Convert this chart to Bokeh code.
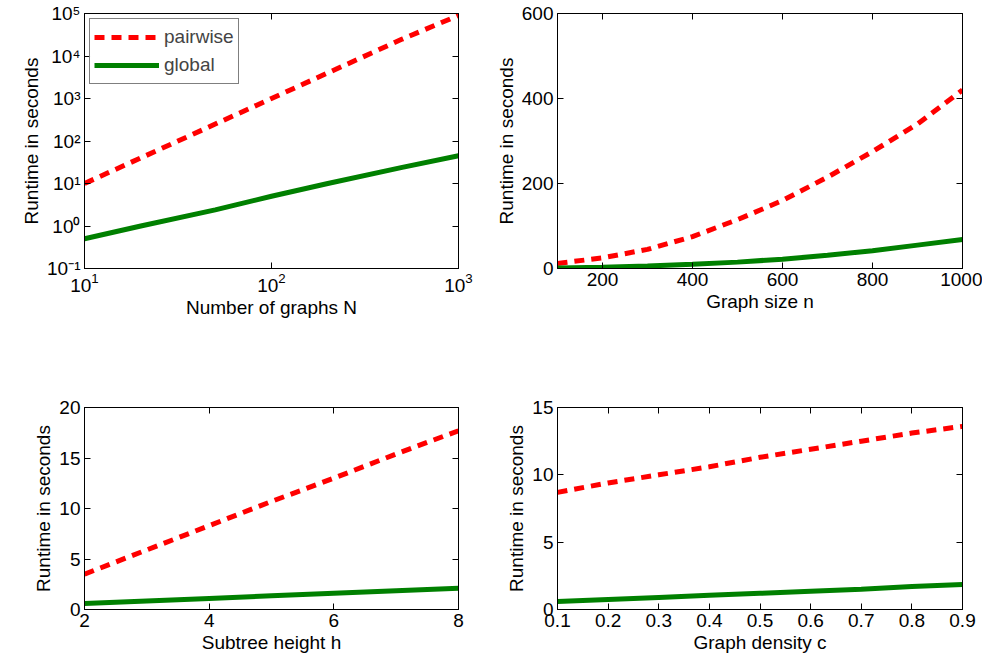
from bokeh.plotting import figure
from bokeh.layouts import column, row
from bokeh.models import FixedTicker, LinearAxis, LogAxis, Legend, LegendItem, Range1d
from bokeh.embed import file_html
from bokeh.resources import INLINE

N = [10, 20, 50, 100, 200, 500, 1000]
N_pair = [10, 40, 250, 1000, 4000, 25000, 90000]
N_glob = [0.5, 1.0, 2.4, 5, 10, 24, 45]

n = [100, 200, 300, 400, 500, 600, 700, 800, 900, 1000]
n_pair = [12, 25, 45, 75, 115, 160, 215, 275, 340, 420]
n_glob = [1, 3, 6, 10, 15, 22, 31, 42, 55, 68]

h = [2, 3, 4, 5, 6, 7, 8]
h_pair = [3.5, 5.9, 8.3, 10.7, 13.0, 15.4, 17.7]
h_glob = [0.6, 0.85, 1.1, 1.35, 1.6, 1.85, 2.1]

c = [0.1, 0.2, 0.3, 0.4, 0.5, 0.6, 0.7, 0.8, 0.9]
c_pair = [8.7, 9.4, 10.0, 10.6, 11.3, 11.9, 12.5, 13.1, 13.6]
c_glob = [0.6, 0.75, 0.9, 1.05, 1.2, 1.35, 1.5, 1.7, 1.85]

FONT = "Liberation Sans"
FS = "19px"
RED = "#ff0000"
GREEN = "#008000"

def style_axis(ax, labels=True):
    ax.major_tick_in = 6
    ax.major_tick_out = 0
    ax.minor_tick_in = 3
    ax.minor_tick_out = 0
    ax.axis_line_color = "black"
    ax.major_tick_line_color = "black"
    ax.minor_tick_line_color = "black"
    ax.major_label_text_font = FONT
    ax.major_label_text_font_size = FS
    ax.major_label_text_color = "black"
    ax.major_label_standoff = 4
    ax.axis_label_text_font = FONT
    ax.axis_label_text_font_size = FS
    ax.axis_label_text_font_style = "normal"
    ax.axis_label_text_color = "black"
    ax.axis_label_standoff = 2
    if not labels:
        ax.major_label_text_alpha = 0
        ax.major_label_text_font_size = "1px"

def make(xr, yr, xt, yt, xlabel, w, h_, bl, br, bt, bb, log=False):
    kw = dict(x_axis_type="log", y_axis_type="log") if log else {}
    p = figure(width=w, height=h_, x_range=Range1d(*xr), y_range=Range1d(*yr),
               output_backend="svg", toolbar_location=None,
               min_border_left=bl, min_border_right=br, min_border_top=bt, min_border_bottom=bb, **kw)
    p.grid.visible = False
    p.outline_line_color = "black"
    p.xaxis.ticker = FixedTicker(ticks=xt)
    p.yaxis.ticker = FixedTicker(ticks=yt)
    p.xaxis.axis_label = xlabel
    p.yaxis.axis_label = "Runtime in seconds"
    for a in p.xaxis + p.yaxis:
        style_axis(a)
    Ax = LogAxis if log else LinearAxis
    r = Ax(ticker=FixedTicker(ticks=yt)); style_axis(r, False)
    t = Ax(ticker=FixedTicker(ticks=xt)); style_axis(t, False)
    p.add_layout(r, "right"); p.add_layout(t, "above")
    if not log:
        for a in [p.xaxis[0], p.yaxis[0], r, t]:
            a.minor_tick_in = 0
    return p

p1 = make((10, 1000), (0.1, 1e5), [10, 100, 1000], [0.1, 1, 10, 100, 1e3, 1e4, 1e5],
          "Number of graphs N", 487, 348, 84, 29, 13, 80, log=True)
p1.xaxis[0].major_label_overrides = {10: "10¹", 100: "10²", 1000: "10³"}
p1.yaxis[0].major_label_overrides = {0.1: "10⁻¹", 1: "10⁰", 10: "10¹", 100: "10²", 1000: "10³", 10000: "10⁴", 100000: "10⁵"}
a = p1.line(N, N_pair, color=RED, line_width=5, line_dash="10 7")
b = p1.line(N, N_glob, color=GREEN, line_width=5)
leg = Legend(items=[LegendItem(label="pairwise", renderers=[a]), LegendItem(label="global", renderers=[b])],
             location="top_left", label_text_font=FONT, label_text_font_size=FS,
             border_line_color="black", glyph_width=65, glyph_height=28, padding=4, spacing=0, margin=5)
p1.add_layout(leg)

p2 = make((100, 1000), (0, 600), [200, 400, 600, 800, 1000], [0, 200, 400, 600],
          "Graph size n", 495, 348, 70, 20, 13, 80)
p2.line(n, n_pair, color=RED, line_width=5, line_dash="10 7")
p2.line(n, n_glob, color=GREEN, line_width=5)

p3 = make((2, 8), (0, 20), [2, 4, 6, 8], [0, 5, 10, 15, 20],
          "Subtree height h", 487, 307, 84, 29, 59, 40)
p3.line(h, h_pair, color=RED, line_width=5, line_dash="10 7")
p3.line(h, h_glob, color=GREEN, line_width=5)

p4 = make((0.1, 0.9), (0, 15), c, [0, 5, 10, 15],
          "Graph density c", 495, 307, 70, 20, 59, 40)
p4.line(c, c_pair, color=RED, line_width=5, line_dash="10 7")
p4.line(c, c_glob, color=GREEN, line_width=5)

lay = column(row(p1, p2), row(p3, p4))
open("out.html", "w").write(file_html(lay, INLINE))
